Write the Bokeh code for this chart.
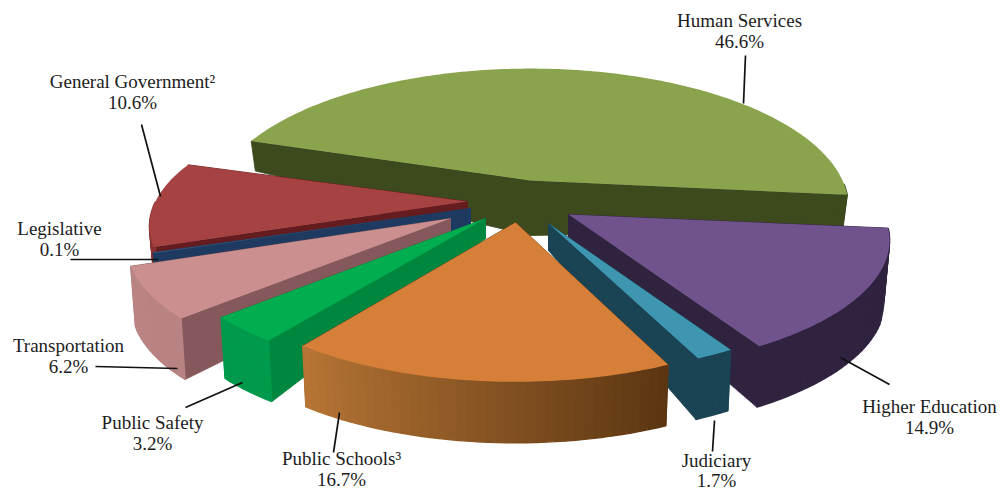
import numpy as np
from bokeh.plotting import figure
from bokeh.models import ColumnDataSource, Range1d
from bokeh.core.properties import value
from bokeh.embed import file_html
from bokeh.resources import INLINE

# ---- data
categories = ["Human Services", "Higher Education", "Judiciary", "Public Schools\u00b3",
              "Public Safety", "Transportation", "Legislative", "General Government\u00b2"]
shares = [46.6, 14.9, 1.7, 16.7, 3.2, 6.2, 0.1, 10.6]

# ---- style: colours for top face, cut faces, rim wall (start/end of the sweep)
top_colors = ["#8aa34d", "#70528c", "#3f96b0", "#d67f38", "#00ae50", "#cb8f8f", "#3d5c82", "#a64342"]
cut_colors = ["#3d4a1e", "#2f2340", "#1a4354", "#6b4018", "#00873f", "#85595c", "#1e3a60", "#641c1e"]
rim_a = ["#3d4a1e", "#2f2340", "#1a4354", "#b67535", "#009a4c", "#ba8484", "#1e3a60", "#8a3030"]
rim_b = ["#3d4a1e", "#2f2340", "#1a4354", "#5c3612", "#009a4c", "#b98383", "#1e3a60", "#8a3030"]

# ---- layout: explosion of each slice from the pie's centre, in page pixels
centre = (530.0, 205.0)
explode_x = [0, 38, 18, -15, -45, -80, -60, -63]
explode_y = [-25, 9, 18, 17, 13, 13, 3, -4]
scale_x = [1.04, 1.05, 1.0, 1.02, 1.04, 1.06, 1.05, 1.04]
scale_y = [1.02, 0.97, 0.93, 0.98, 0.97, 0.98, 0.92, 0.95]
apex_drop = [55, 30, 27, 30, 20, 30, 19, 20]
A, B, P = 300.0, 131.0, 0.194
START = -6.0          # degrees; Human Services sweeps counter-clockwise from here


def project(phi, i):
    X, Y = np.cos(phi), np.sin(phi)
    w = 1 + P * Y
    ax, ay = centre[0] + explode_x[i], centre[1] + explode_y[i]
    return ax + scale_x[i] * A * X / w, ay - scale_y[i] * B * Y / w


def rim_drop(phi):
    t = np.clip((-np.sin(phi) - 0.05) / 0.3, 0, 1)
    return 30 + 31 * t


def mix(c1, c2, t):
    a = [int(c1[k:k + 2], 16) for k in (1, 3, 5)]
    b = [int(c2[k:k + 2], 16) for k in (1, 3, 5)]
    return "#%02x%02x%02x" % tuple(int(round(u + (v - u) * t)) for u, v in zip(a, b))


# sweep limits from the shares
sweeps = np.array(shares) / sum(shares) * 2 * np.pi
limits = []
ang = np.radians(START)
limits.append((ang, ang + sweeps[0]))
for k in range(1, len(shares)):
    limits.append((ang - sweeps[k], ang))
    ang -= sweeps[k]

xs, ys, colors, widths = [], [], [], []


def add(px, py, c, w=0.0):
    xs.append(list(map(float, px)))
    ys.append(list(map(float, py)))
    colors.append(c)
    widths.append(w)


def lower(x, y, d, i):
    ax = centre[0] + explode_x[i]
    return ax + (x - ax) * 0.985, y + d


for i in [0, 7, 6, 5, 1, 2, 4, 3]:
    a0, a1 = limits[i]
    ax, ay = centre[0] + explode_x[i], centre[1] + explode_y[i]
    # the two cut faces
    for phi in (a0, a1):
        rx, ry = project(phi, i)
        lx, ly = lower(rx, ry, rim_drop(phi), i)
        add([ax, rx, lx, ax], [ay, ry, ly, ay + apex_drop[i]], cut_colors[i], 0.8)
    # the rim wall, in short pieces (only the part that faces the viewer)
    n = max(4, int(np.degrees(a1 - a0) / 1.5))
    phis = np.linspace(a0, a1, n + 1)
    for k in range(n):
        if np.sin(phis[k]) > 0 or np.sin(phis[k + 1]) > 0:
            continue
        x0, y0 = project(phis[k], i)
        x1, y1 = project(phis[k + 1], i)
        lx0, ly0 = lower(x0, y0, rim_drop(phis[k]), i)
        lx1, ly1 = lower(x1, y1, rim_drop(phis[k + 1]), i)
        add([x0, x1, lx1, lx0], [y0, y1, ly1, ly0], mix(rim_a[i], rim_b[i], k / max(n - 1, 1)), 1.4)
    # the top face
    fine = np.linspace(a0, a1, max(3, int(np.degrees(a1 - a0))))
    tx, ty = project(fine, i)
    add([ax] + list(tx), [ay] + list(ty), top_colors[i])

p = figure(width=1000, height=489, output_backend="svg", toolbar_location=None,
           x_range=Range1d(0, 1000), y_range=Range1d(489, 0),
           min_border=0, outline_line_color=None, background_fill_color="white",
           border_fill_color="white")
p.axis.visible = False
p.grid.visible = False

p.patches("xs", "ys", source=ColumnDataSource(dict(xs=xs, ys=ys, c=colors, w=widths)),
          fill_color="c", line_color="c", line_width="w")

# ---- leader lines
p.multi_line(xs=[[745, 743], [141, 160], [70, 158], [95, 177], [185, 242], [333, 339], [712, 714], [889, 840]],
             ys=[[55, 103], [124, 196], [259, 259], [366, 368], [407, 382], [452, 412], [451, 420], [384, 357]],
             line_color="#111111", line_width=1.7)

# ---- labels
label_names = ["Human Services", "General Government\u00b2", "Legislative", "Transportation",
               "Public Safety", "Public Schools\u00b3", "Judiciary", "Higher Education"]
label_x = [739, 132, 59, 68, 152, 341, 716, 929]
label_y = [20, 81, 228, 345, 422, 458, 460, 406]
lines, lx, ly = [], [], []
for name, x, y in zip(label_names, label_x, label_y):
    lines += [name, "%.1f%%" % shares[categories.index(name)]]
    lx += [x, x]
    ly += [y, y + 19.5 if name == "Judiciary" else y + 20.5]
p.text(lx, ly, text=lines, text_font=value("Liberation Serif"), text_font_size="19px",
       text_color="#1c1c1c", text_align="center", text_baseline="middle")

open("out.html", "w").write(file_html(p, INLINE))
